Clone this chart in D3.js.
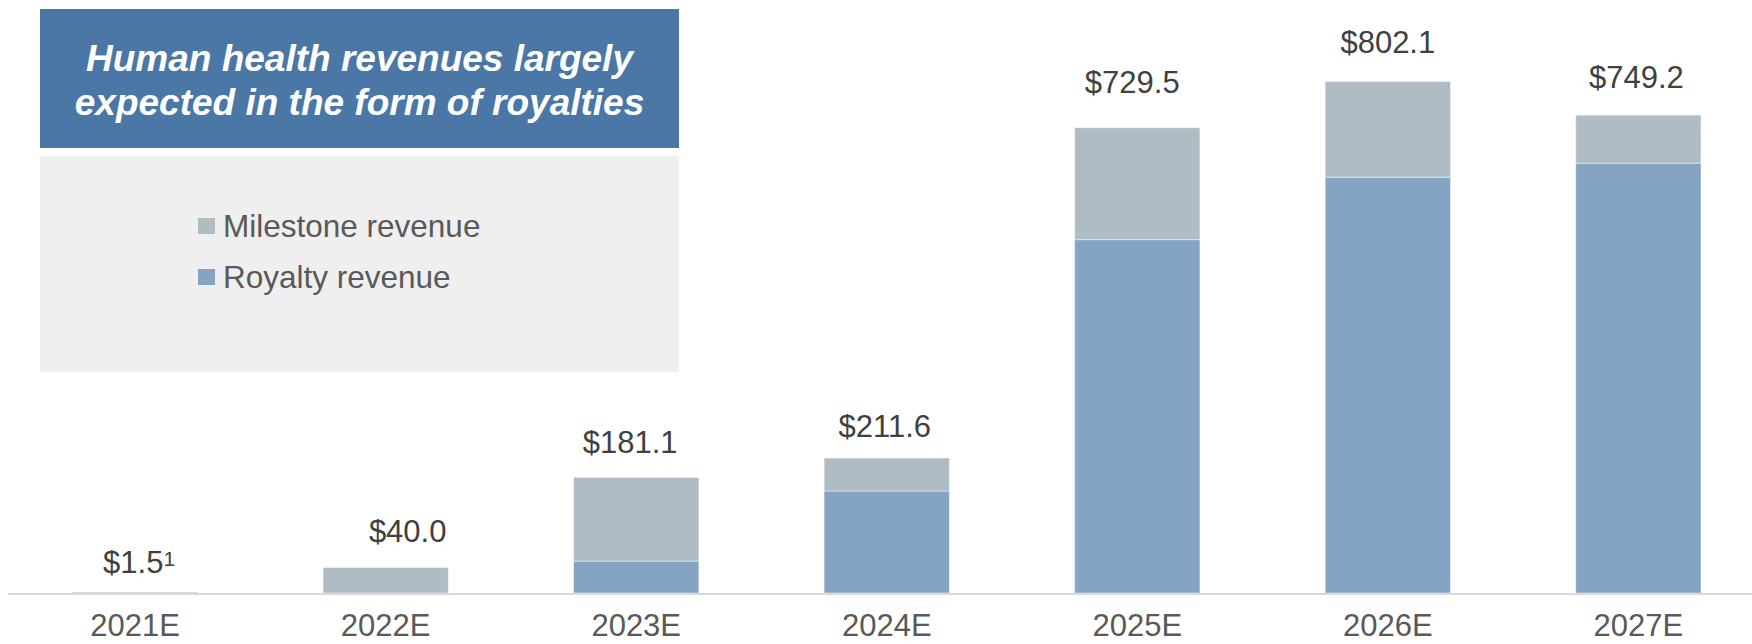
<!DOCTYPE html>
<html>
<head>
<meta charset="utf-8">
<script src="https://cdn.jsdelivr.net/npm/d3@7"></script>
<style>
  html, body { margin: 0; padding: 0; background: #ffffff; }
  svg { display: block; font-family: "Liberation Sans", Arial, sans-serif; }
</style>
</head>
<body>
<svg id="chart" width="1752" height="644"></svg>
<script>
// Human health revenue forecast, $ millions
const years = ["2021E", "2022E", "2023E", "2024E", "2025E", "2026E", "2027E"];
const royalty = [0, 0, 50.0, 160.0, 554.0, 652.0, 674.0];
const milestone = [1.5, 40.0, 131.1, 51.6, 175.5, 150.1, 75.2];
const totalLabels = ["$1.5", "$40.0", "$181.1", "$211.6", "$729.5", "$802.1", "$749.2"];
const footnoteMarks = ["1", "", "", "", "", "", ""];
const seriesNames = ["Milestone revenue", "Royalty revenue"];
const titleLines = ["Human health revenues largely", "expected in the form of royalties"];

const colors = { milestone: "#afbcc4", royalty: "#85a4c3" };

const svg = d3.select("#chart");

const x = d3.scaleBand()
  .domain(years)
  .range([72.5, 1701])
  .paddingInner(0.5)
  .paddingOuter(0);

const y = d3.scaleLinear()
  .domain([0, 900])
  .range([593, 19]);

// stacked layout: royalty at the bottom, milestone on top
const rows = years.map((yr, i) => ({ year: yr, royalty: royalty[i], milestone: milestone[i] }));
const stack = d3.stack().keys(["royalty", "milestone"]);
const layers = stack(rows);

svg.append("g")
  .selectAll("g")
  .data(layers)
  .join("g")
    .attr("fill", d => colors[d.key])
  .selectAll("rect")
  .data(d => d.filter(s => s[1] - s[0] > 0))
  .join("rect")
    .attr("x", d => x(d.data.year))
    .attr("width", x.bandwidth())
    .attr("y", d => y(d[1]))
    .attr("height", d => Math.max(1, y(d[0]) - y(d[1])))
    .attr("stroke", "#ffffff")
    .attr("stroke-opacity", 0.45)
    .attr("stroke-width", 1);

// baseline and category labels
const axis = d3.axisBottom(x).tickSize(0).tickPadding(0);
const axisG = svg.append("g")
  .attr("transform", "translate(0,594)")
  .call(axis);
axisG.select(".domain").remove();
axisG.append("line")
  .attr("x1", 8).attr("x2", 1752)
  .attr("y1", 0).attr("y2", 0)
  .attr("stroke", "#d9d9d9")
  .attr("stroke-width", 2);
axisG.selectAll(".tick text")
  .attr("y", 42)
  .attr("dy", 0)
  .attr("fill", "#595959")
  .attr("font-size", 31)
  .attr("font-family", "'Liberation Sans', Arial, sans-serif");

// total value labels above each stack
const labelNudge = { "2021E": [4, 6], "2022E": [22, 0], "2023E": [-6, 1], "2024E": [-2, 4], "2025E": [-5, -10], "2026E": [0, -3], "2027E": [-2, -2] };
const labels = svg.append("g").attr("fill", "#404040").attr("font-size", 31);
years.forEach((yr, i) => {
  const total = royalty[i] + milestone[i];
  const n = labelNudge[yr] || [0, 0];
  const t = labels.append("text")
    .attr("x", x(yr) + x.bandwidth() / 2 + n[0])
    .attr("y", y(total) - 25 + n[1])
    .attr("text-anchor", "middle")
    .text(totalLabels[i]);
  if (footnoteMarks[i]) {
    t.append("tspan")
      .attr("font-size", 21)
      .attr("dy", -7)
      .text(footnoteMarks[i]);
  }
});

// title banner
const title = svg.append("g");
title.append("rect")
  .attr("x", 40).attr("y", 9)
  .attr("width", 639).attr("height", 139)
  .attr("fill", "#4a77a6");
title.selectAll("text")
  .data(titleLines)
  .join("text")
    .attr("x", 359.5)
    .attr("y", (d, i) => 71 + i * 43.5)
    .attr("text-anchor", "middle")
    .attr("fill", "#ffffff")
    .attr("font-size", 37)
    .attr("font-weight", "bold")
    .attr("font-style", "italic")
    .text(d => d);

// legend panel
const legend = svg.append("g");
legend.append("rect")
  .attr("x", 40).attr("y", 156)
  .attr("width", 639).attr("height", 216)
  .attr("fill", "#efefef");
const legendKeys = ["milestone", "royalty"];
const items = legend.selectAll("g.item")
  .data(seriesNames)
  .join("g")
    .attr("class", "item")
    .attr("transform", (d, i) => `translate(198,${218 + i * 51})`);
items.append("rect")
  .attr("width", 17).attr("height", 16)
  .attr("fill", (d, i) => colors[legendKeys[i]]);
items.append("text")
  .attr("x", 25).attr("y", 18.5)
  .attr("fill", "#595959")
  .attr("font-size", 31.5)
  .text(d => d);
</script>
</body>
</html>
